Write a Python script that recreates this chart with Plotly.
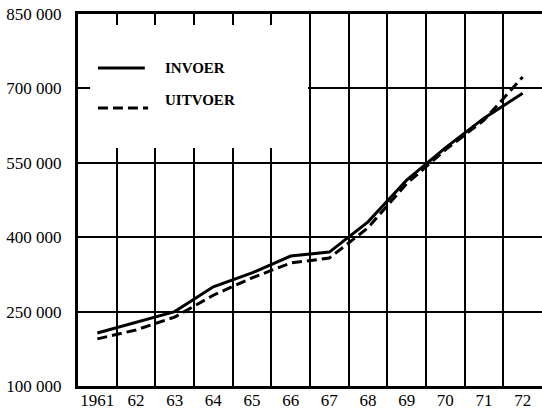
import plotly.graph_objects as go

years = ["1961", "62", "63", "64", "65", "66", "67", "68", "69", "70", "71", "72"]
invoer = [207000, 229000, 250000, 300000, 328000, 362000, 370000, 431000, 515000, 580000, 640000, 690000]
uitvoer = [195000, 213000, 239000, 283000, 318000, 348000, 358000, 419000, 508000, 576000, 636000, 723000]
y_ticks = [100000, 250000, 400000, 550000, 700000, 850000]
y_labels = ["100 000", "250 000", "400 000", "550 000", "700 000", "850 000"]

xs = list(range(len(years)))
serif = "Liberation Serif"

fig = go.Figure()
fig.add_trace(go.Scatter(x=xs, y=invoer, mode="lines", name="INVOER",
                         line=dict(color="black", width=3)))
fig.add_trace(go.Scatter(x=xs, y=uitvoer, mode="lines", name="UITVOER",
                         line=dict(color="black", width=3, dash="10px,5px")))

# blank legend area in the top-left corner (grid shows only as short ticks at the top)
fig.add_shape(type="rect", xref="x", yref="y", x0=-0.5, x1=5.45, y0=580000, y1=828000,
              fillcolor="white", line_width=0, layer="between")

# hand-drawn legend
fig.add_shape(type="line", xref="paper", yref="paper", x0=0.043, x1=0.144, y0=0.855, y1=0.855,
              line=dict(color="black", width=3))
fig.add_shape(type="line", xref="paper", yref="paper", x0=0.043, x1=0.151, y0=0.747, y1=0.747,
              line=dict(color="black", width=3, dash="10px,5px"))
fig.add_annotation(text="<b>INVOER</b>", xref="paper", yref="paper", x=0.184, y=0.855,
                   xanchor="left", yanchor="middle", showarrow=False,
                   font=dict(family=serif, size=15, color="black"))
fig.add_annotation(text="<b>UITVOER</b>", xref="paper", yref="paper", x=0.184, y=0.768,
                   xanchor="left", yanchor="middle", showarrow=False,
                   font=dict(family=serif, size=15, color="black"))

fig.update_xaxes(
    range=[-0.5, 11.5], tickvals=xs, ticktext=years, showgrid=False,
    showline=True, linecolor="black", linewidth=3, mirror=True,
    ticks="", zeroline=False, ticklabeloverflow="allow", automargin=False,
    ticklabelstandoff=-3,
    minor=dict(tickvals=[i + 0.5 for i in xs[:-1]], showgrid=True, gridcolor="black",
               gridwidth=1.5, ticks=""),
    tickfont=dict(family=serif, size=17, color="black"),
)
fig.update_yaxes(
    range=[100000, 850000], tickvals=y_ticks, ticktext=y_labels,
    showgrid=True, gridcolor="black", gridwidth=1.5,
    showline=True, linecolor="black", linewidth=3,
    ticks="inside", ticklen=12, tickcolor="black", tickwidth=2,
    zeroline=False, ticklabelstandoff=10, ticklabeloverflow="allow", automargin=False,
    tickfont=dict(family=serif, size=17, color="black"),
)
fig.update_layout(
    width=542, height=411,
    margin=dict(l=78, r=0, t=14, b=25),
    paper_bgcolor="white", plot_bgcolor="white",
    showlegend=False,
)
# drop the page's default body margin so the figure fills the window
fig.write_html("out.html", config={"displayModeBar": False},
               post_script="document.body.style.margin = '0';")
